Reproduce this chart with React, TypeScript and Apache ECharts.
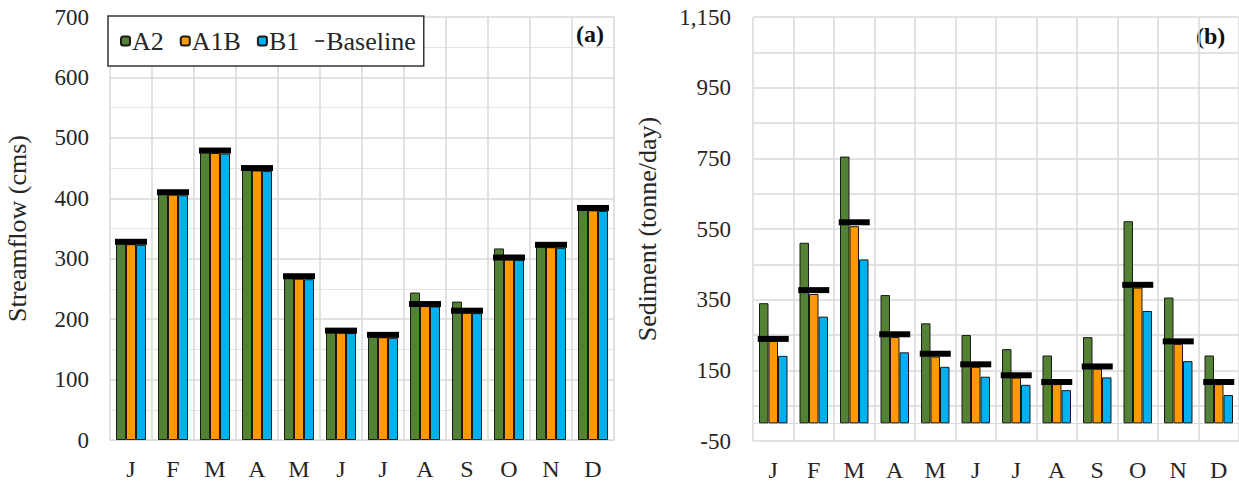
import React, { useEffect, useRef } from "react";
import * as echarts from "echarts";

const months = ["J", "F", "M", "A", "M", "J", "J", "A", "S", "O", "N", "D"];

// (a) Streamflow (cms)
const flowA2 = [326, 408, 477, 448, 269, 180, 172, 244, 229, 317, 321, 382];
const flowA1B = [324, 406, 475, 446, 267, 178, 170, 222, 211, 299, 319, 380];
const flowB1 = [323, 405, 474, 445, 266, 177, 169, 221, 210, 298, 318, 379];
const flowBaseline = [328, 410, 479, 450, 271, 181, 174, 225, 214, 302, 323, 384];

// (b) Sediment (tonne/day)
const sedA2 = [340, 511, 755, 363, 283, 250, 210, 192, 244, 572, 356, 192];
const sedA1B = [233, 366, 558, 244, 189, 160, 130, 111, 155, 384, 225, 111];
const sedB1 = [191, 302, 464, 201, 160, 132, 109, 94, 130, 318, 176, 80];
const sedBaseline = [239, 377, 569, 252, 197, 167, 136, 117, 161, 392, 232, 117];

const sedTickLabels = ["-50", "50", "150", "250", "350", "450", "550", "650", "750", "850", "950", "1,050", "1,150"];

const GREEN = "#548235";
const ORANGE = "#FF9900";
const BLUE = "#00B0F0";
const GRID = "#d9d9d9";
const FONT = "'Liberation Serif', 'Times New Roman', serif";
const TXT = "#262626";

export default function App() {
  const ref = useRef<HTMLDivElement>(null);
  useEffect(() => {
    if (!ref.current) return;
    const chart = echarts.init(ref.current, undefined, { renderer: "svg" });
    const barStyle = (c: string) => ({ color: c, borderColor: "#1a1a1a", borderWidth: 1 });
    const barSeries = (name: string, data: number[], c: string, axis: number, yAxis: number, bw: number) => ({
      type: "bar",
      name,
      data,
      xAxisIndex: axis,
      yAxisIndex: yAxis,
      barWidth: bw,
      barGap: "0%",
      itemStyle: barStyle(c),
    });
    const baseSeries = (data: number[], axis: number, yAxis: number, w: number) => ({
      type: "scatter",
      name: "Baseline",
      data,
      xAxisIndex: axis,
      yAxisIndex: yAxis,
      symbol: "rect",
      symbolSize: [w, 6],
      itemStyle: { color: "#000", opacity: 1 },
      z: 5,
    });
    const xAxisCommon = {
      type: "category",
      data: months,
      boundaryGap: true,
      axisLine: { show: true, lineStyle: { color: GRID } },
      axisTick: { show: false },
      axisLabel: { fontFamily: FONT, fontSize: 24, color: TXT, margin: 17 },
      splitLine: { show: true, interval: 0, lineStyle: { color: GRID, width: 1.5 } },
    };
    chart.setOption({
      animation: false,
      backgroundColor: "#fff",
      textStyle: { fontFamily: FONT },
      grid: [
        { left: 110, top: 17, width: 504, height: 423 },
        { left: 753, top: 17, width: 489, height: 424 },
      ],
      legend: {
        left: 108,
        top: 16,
        padding: [12, 8, 12, 12],
        borderColor: "#333",
        borderWidth: 1.5,
        backgroundColor: "#fff",
        itemWidth: 9,
        itemHeight: 9,
        itemGap: 16,
        selectedMode: false,
        textStyle: { fontFamily: FONT, fontSize: 26, color: TXT, padding: [0, 0, 0, -3] },
        data: [
          { name: "A2" },
          { name: "A1B" },
          { name: "B1" },
          { name: "Baseline", icon: "path://M0,4 L10,4 L10,5.6 L0,5.6 Z" },
        ],
      },
      xAxis: [
        { ...xAxisCommon, gridIndex: 0 },
        { ...xAxisCommon, gridIndex: 1 },
      ],
      yAxis: [
        {
          type: "value",
          gridIndex: 0,
          min: 0,
          max: 700,
          interval: 100,
          name: "Streamflow (cms)",
          nameLocation: "middle",
          nameGap: 80,
          nameTextStyle: { fontFamily: FONT, fontSize: 26, color: TXT },
          axisLine: { show: false },
          axisTick: { show: false },
          axisLabel: { fontFamily: FONT, fontSize: 23, color: TXT, margin: 21 },
          splitLine: { show: true, lineStyle: { color: GRID, width: 1.5 } },
          minorTick: { show: false, splitNumber: 2 },
          minorSplitLine: { show: true, lineStyle: { color: "#e4e4e4", width: 1 } },
        },
        {
          type: "value",
          gridIndex: 1,
          min: -50,
          max: 1150,
          show: false,
          splitLine: { show: false },
        },
        {
          type: "category",
          gridIndex: 1,
          position: "left",
          data: sedTickLabels,
          boundaryGap: false,
          name: "Sediment (tonne/day)",
          nameLocation: "middle",
          nameGap: 93,
          nameTextStyle: { fontFamily: FONT, fontSize: 26, color: TXT },
          axisLine: { show: false },
          axisTick: { show: false, interval: 0 },
          axisLabel: {
            fontFamily: FONT,
            fontSize: 23,
            color: TXT,
            margin: 22,
            interval: (i: number) => i % 2 === 0,
          },
          splitLine: { show: true, interval: 0, lineStyle: { color: GRID, width: 1.5 } },
        },
      ],
      series: [
        barSeries("A2", flowA2, GREEN, 0, 0, 10),
        barSeries("A1B", flowA1B, ORANGE, 0, 0, 10),
        barSeries("B1", flowB1, BLUE, 0, 0, 10),
        baseSeries(flowBaseline, 0, 0, 32),
        barSeries("A2", sedA2, GREEN, 1, 1, 9.5),
        barSeries("A1B", sedA1B, ORANGE, 1, 1, 9.5),
        barSeries("B1", sedB1, BLUE, 1, 1, 9.5),
        baseSeries(sedBaseline, 1, 1, 31),
      ],
      graphic: [
        {
          type: "text",
          left: 576,
          top: 22,
          style: { text: "(a)", font: "bold 24px 'Liberation Serif', serif", fill: "#111" },
        },
        {
          type: "text",
          left: 1196,
          top: 24,
          style: { text: "(b)", font: "bold 24px 'Liberation Serif', serif", fill: "#111" },
        },
      ],
    });
    return () => chart.dispose();
  }, []);
  return (
    <div
      ref={ref}
      style={{ position: "fixed", left: 0, top: 0, width: 1239, height: 483 }}
    />
  );
}
